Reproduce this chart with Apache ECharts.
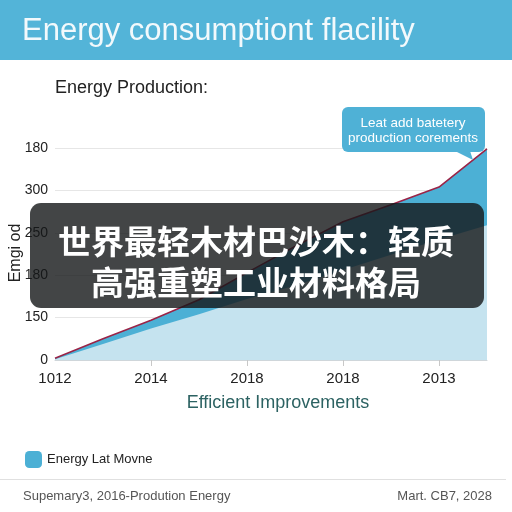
<!DOCTYPE html>
<html>
<head>
<meta charset="utf-8">
<script src="https://cdn.jsdelivr.net/npm/echarts@6/dist/echarts.min.js"></script>
<style>
html,body{margin:0;padding:0;background:#fff;}
#c{width:512px;height:512px;}
</style>
</head>
<body>
<div id="c"></div>
<script>
// ---- data ----
var categories = ['1012', '', '2014', '', '2018', '', '2018', '', '2013', ''];
var topLine = [2, 25, 47, 71, 103, 134, 163, 183, 204, 249];
var lowerArea = [1, 19, 37, 54, 72, 88, 106, 124, 142, 159];
var yTickLabels = ['0', '150', '180', '250', '300', '180'];
var seriesName = 'Energy Lat Movne';
var titleText = 'Energy consumptiont flacility';
var subtitleText = 'Energy Production:';
var xAxisName = 'Efficient Improvements';
var yAxisName = 'Emgi od';
var calloutLines = ['Leat add batetery', 'production corements'];
var overlayLines = ['世界最轻木材巴沙木：轻质', '高强重塑工业材料格局'];
var footerLeft = 'Supemary3, 2016-Prodution Energy';
var footerRight = 'Mart. CB7, 2028';

var chart = echarts.init(document.getElementById('c'), null, {renderer: 'canvas'});
var FONT = '"Liberation Sans", Arial, sans-serif';

var option = {
  animation: false,
  backgroundColor: '#ffffff',
  textStyle: {fontFamily: FONT},
  grid: {left: 55, right: 25, top: 148, bottom: 152, containLabel: false},
  legend: {
    data: [seriesName],
    left: 20, top: 446,
    icon: 'roundRect', itemWidth: 17, itemHeight: 17, itemGap: 8,
    textStyle: {fontSize: 13, color: '#222', fontFamily: FONT}
  },
  xAxis: {
    type: 'category',
    data: categories,
    boundaryGap: false,
    axisLine: {lineStyle: {color: '#cfd6da', width: 1}},
    axisTick: {show: true, length: 6, lineStyle: {color: '#c8c8c8'},
      interval: function (i) { return i % 2 === 0 && i > 0; }},
    axisLabel: {interval: 0, margin: 11, fontSize: 15, color: '#222', fontFamily: FONT},
    splitLine: {show: false}
  },
  yAxis: {
    type: 'value',
    min: 0, max: 250, interval: 50,
    axisLine: {show: false},
    axisTick: {show: false},
    axisLabel: {margin: 7, fontSize: 14, color: '#222', fontFamily: FONT,
      formatter: function (v) { return yTickLabels[Math.round(v / 50)]; }},
    splitLine: {lineStyle: {color: '#e6e6e6', width: 1}}
  },
  series: [
    {
      name: seriesName, type: 'line', data: topLine, symbol: 'none',
      lineStyle: {width: 0}, itemStyle: {color: '#4cb0d5'},
      areaStyle: {color: '#4cb0d5', opacity: 1}, z: 2
    },
    {
      name: 'lower', type: 'line', data: lowerArea, symbol: 'none',
      lineStyle: {width: 0}, itemStyle: {color: '#c5e3ef'},
      areaStyle: {color: '#c5e3ef', opacity: 1}, z: 3
    },
    {
      name: 'line', type: 'line', data: topLine, symbol: 'none',
      lineStyle: {width: 1.6, color: '#9a2447'}, itemStyle: {color: '#9a2447'}, z: 4
    }
  ],
  graphic: [
    {type: 'rect', left: 0, top: 0, shape: {width: 512, height: 60}, style: {fill: '#53b4d8'}, z: 10},
    {type: 'text', x: 22, y: 31, style: {text: titleText, fill: '#f2f9fc', font: '31px ' + FONT, verticalAlign: 'middle'}, z: 11},
    {type: 'text', x: 55, y: 88, style: {text: subtitleText, fill: '#222', font: '18px ' + FONT, verticalAlign: 'middle'}, z: 11},
    {type: 'text', x: 16, y: 253, rotation: Math.PI / 2,
      style: {text: yAxisName, fill: '#222', font: '16px ' + FONT, align: 'center', verticalAlign: 'middle'}, z: 11},
    {type: 'text', x: 278, y: 403, style: {text: xAxisName, fill: '#2c6262', font: '18px ' + FONT, align: 'center', verticalAlign: 'middle'}, z: 11},
    // callout
    {type: 'rect', shape: {x: 342, y: 107, width: 143, height: 45, r: 6}, style: {fill: '#4fb1d6'}, z: 12},
    {type: 'polygon', shape: {points: [[455, 151], [470, 151], [473, 160]]}, style: {fill: '#4fb1d6'}, z: 12},
    {type: 'text', x: 413, y: 123, style: {text: calloutLines[0], fill: '#ffffff', font: '13.5px ' + FONT, align: 'center', verticalAlign: 'middle'}, z: 13},
    {type: 'text', x: 413, y: 138, style: {text: calloutLines[1], fill: '#ffffff', font: '13.5px ' + FONT, align: 'center', verticalAlign: 'middle'}, z: 13},
    // overlay
    {type: 'rect', shape: {x: 30, y: 203, width: 454, height: 105, r: 11}, style: {fill: 'rgba(20,22,24,0.80)'}, z: 20},
    {type: 'text', x: 256, y: 241, style: {text: overlayLines[0], fill: '#ffffff', font: 'bold 33px "Noto Sans CJK SC", sans-serif', align: 'center', verticalAlign: 'middle'}, z: 21},
    {type: 'text', x: 256, y: 282, style: {text: overlayLines[1], fill: '#ffffff', font: 'bold 33px "Noto Sans CJK SC", sans-serif', align: 'center', verticalAlign: 'middle'}, z: 21},
    // footer
    {type: 'rect', shape: {x: 0, y: 479, width: 506, height: 1}, style: {fill: '#e0e0e0'}, z: 10},
    {type: 'text', x: 23, y: 496, style: {text: footerLeft, fill: '#555', font: '13px ' + FONT, verticalAlign: 'middle'}, z: 11},
    {type: 'text', x: 492, y: 496, style: {text: footerRight, fill: '#555', font: '13px ' + FONT, align: 'right', verticalAlign: 'middle'}, z: 11}
  ]
};
chart.setOption(option);
</script>
</body>
</html>
